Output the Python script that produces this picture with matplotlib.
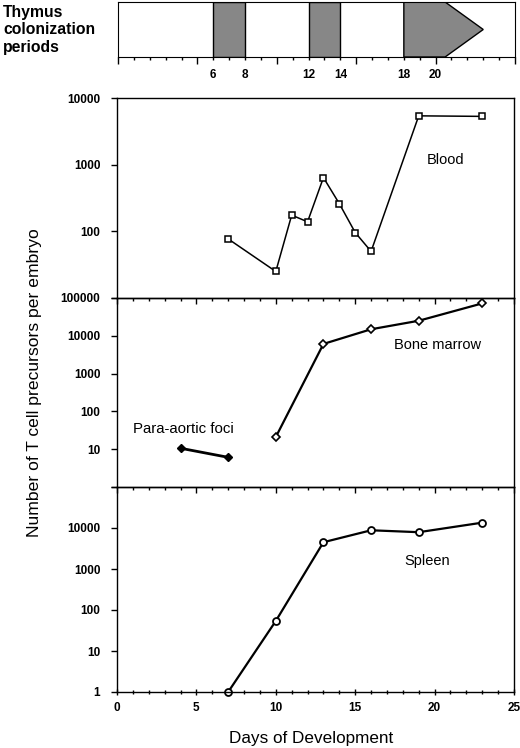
import numpy as np
import matplotlib.pyplot as plt
from matplotlib.patches import Polygon

plt.rcParams['font.family'] = ['Liberation Sans', 'DejaVu Sans']

# Thymus colonization windows (days of development)
colon_start = [6, 12, 18]
colon_end = [8, 14, 20.6]
arrow_tip = 23
colon_labels = [6, 8, 12, 14, 18, 20]

# T cell precursors per embryo
blood_days = [7, 10, 11, 12, 13, 14, 15, 16, 19, 23]
blood_vals = [77, 25, 175, 139, 640, 260, 96, 50, 5400, 5300]

marrow_days = [10, 13, 16, 19, 23]
marrow_vals = [21, 6100, 14900, 25000, 72000]

foci_days = [4, 7]
foci_vals = [10.6, 6.1]

spleen_days = [7, 10, 13, 16, 19, 23]
spleen_vals = [1, 54, 4500, 8800, 7900, 13500]

gray = '#878787'
tick_font = dict(fontsize=8.5, fontweight='bold')

fig = plt.figure(figsize=(5.2, 7.48), dpi=100)
W, H = 520.0, 748.0
L, WD = 117 / W, 397 / W

ax_top = fig.add_axes([118 / W, 1 - 57 / H, 397 / W, 55 / H])
ax_blood = fig.add_axes([L, 1 - 298 / H, WD, 200 / H])
ax_bm = fig.add_axes([L, 1 - 487 / H, WD, 189 / H])
ax_sp = fig.add_axes([L, 1 - 692 / H, WD, 205 / H])

# --- top strip with colonization periods ---
ax_top.set_xlim(0, 25)
ax_top.set_ylim(0, 1)
ax_top.set_yticks([])
ax_top.set_xticks(np.arange(0, 26, 5), [''] * 6)
ax_top.set_xticks(np.arange(0, 26, 1), minor=True)
ax_top.tick_params(axis='x', which='major', direction='out', length=5, width=1)
ax_top.tick_params(axis='x', which='minor', direction='out', length=2.5, width=1)
for s, e in zip(colon_start[:2], colon_end[:2]):
    ax_top.axvspan(s, e, facecolor=gray, edgecolor='black', lw=1)
ax_top.add_patch(Polygon([(colon_start[2], 0), (colon_start[2], 1), (colon_end[2], 1),
                          (arrow_tip, 0.5), (colon_end[2], 0)],
                         closed=True, facecolor=gray, edgecolor='black', lw=1))
for d in colon_labels:
    ax_top.text(d, -0.33, str(d), transform=ax_top.get_xaxis_transform(),
                ha='center', va='center', **tick_font)
fig.text(3 / W, 1 - 30 / H, 'Thymus\ncolonization\nperiods', ha='left', va='center',
         fontsize=11.3, fontweight='bold', linespacing=1.2)

# --- three log panels ---
decades = [1, 10, 100, 1000, 10000, 100000]
panels = [
    (ax_blood, (10, 10000), ['', '100', '1000', '10000']),
    (ax_bm, (1, 100000), ['', '10', '100', '1000', '10000', '100000']),
    (ax_sp, (1, 100000), ['1', '10', '100', '1000', '10000', '']),
]
for ax, (lo, hi), labels in panels:
    ax.patch.set_visible(False)
    ax.set_yscale('log')
    ticks = [t for t in decades if lo <= t <= hi]
    ax.set_yticks(ticks, labels, **tick_font)
    ax.set_yticks([], minor=True)
    ax.set_ylim(lo, hi)
    ax.set_xlim(0, 25)
    ax.set_xticks(np.arange(0, 26, 5))
    ax.set_xticks(np.arange(0, 26, 1), minor=True)
    ax.tick_params(axis='y', direction='out', length=4.5, width=1, pad=7.5)
    for sp in ax.spines.values():
        sp.set_linewidth(1.0)

for ax in (ax_blood, ax_bm):
    ax.tick_params(axis='x', which='both', direction='out', labelbottom=False)
    ax.tick_params(axis='x', which='major', length=4, width=1)
    ax.tick_params(axis='x', which='minor', length=2.5, width=1)

ax_sp.set_xticks(np.arange(0, 26, 5), [str(v) for v in range(0, 26, 5)], **tick_font)
ax_sp.tick_params(axis='x', which='major', direction='inout', length=5, width=1, pad=4.5)
ax_sp.tick_params(axis='x', which='minor', direction='inout', length=3, width=1)

ax_blood.plot(blood_days, blood_vals, color='black', lw=1.1, marker='s', ms=4.5,
              mfc='white', mec='black', mew=1.1, clip_on=False)
ax_bm.plot(marrow_days, marrow_vals, color='black', lw=1.6, marker='D', ms=4,
           mfc='white', mec='black', mew=1.2, clip_on=False)
ax_bm.plot(foci_days, foci_vals, color='black', lw=2, marker='D', ms=4.5,
           mfc='black', mec='black', clip_on=False)
ax_sp.plot(spleen_days, spleen_vals, color='black', lw=1.6, marker='o', ms=5,
           mfc='white', mec='black', mew=1.3, clip_on=False)

ax_blood.text(20.7, 1190, 'Blood', ha='center', va='center', fontsize=10.5)
ax_bm.text(20.2, 5700, 'Bone marrow', ha='center', va='center', fontsize=10.5)
ax_bm.text(4.2, 34, 'Para-aortic foci', ha='center', va='center', fontsize=10.8)
ax_sp.text(19.5, 1560, 'Spleen', ha='center', va='center', fontsize=10.5)

fig.text(35 / W, 1 - 383 / H, 'Number of T cell precursors per embryo', rotation=90,
         ha='center', va='center', fontsize=12.6)
fig.text(311 / W, 1 - 738 / H, 'Days of Development', ha='center', va='center',
         fontsize=12.3)

fig.savefig('out.png', dpi=100)
